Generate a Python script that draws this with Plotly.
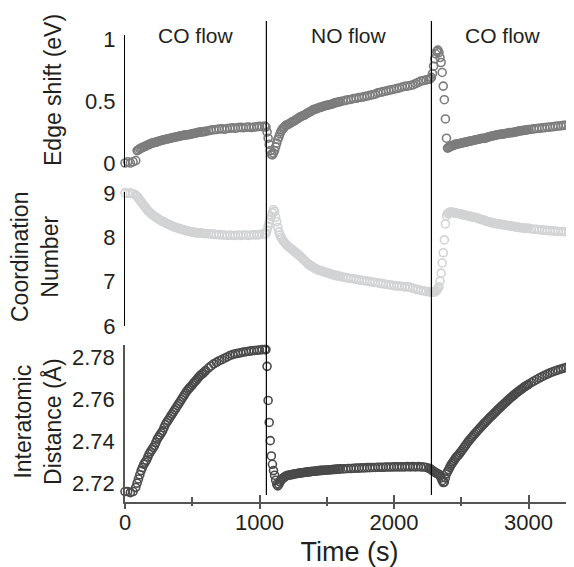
import plotly.graph_objects as go

# sampling times (s): coarser where the signals are flat, finer where they move fast
seg_starts = [0, 90, 620, 1048, 1210, 1620, 2270, 2470, 3020]
seg_steps = [20, 10, 20, 8, 10, 20, 8, 10, 20]
seg_counts = [5, 52, 22, 20, 40, 33, 25, 54, 17]
time = []
for s0, st, n in zip(seg_starts, seg_steps, seg_counts):
    time += [s0 + st * k for k in range(n)]

switch_times = [1051, 2278]
phase_labels = ["CO flow", "NO flow", "CO flow"]
phase_centers = [525, 1665, 2808]

edge_shift = [
    0.00, 0.01, 0.00, 0.01, 0.02,
    0.10, 0.105, 0.115, 0.12, 0.125, 0.13, 0.135, 0.14, 0.145, 0.15,
    0.155, 0.16, 0.162, 0.165, 0.168, 0.17, 0.175, 0.18, 0.182, 0.185,
    0.188, 0.19, 0.193, 0.195, 0.198, 0.20, 0.203, 0.205, 0.208, 0.21,
    0.212, 0.215, 0.218, 0.22, 0.222, 0.225, 0.226, 0.226, 0.228, 0.23,
    0.233, 0.235, 0.238, 0.24, 0.242, 0.245, 0.248, 0.25, 0.25, 0.252,
    0.254, 0.255,
    0.26, 0.265, 0.268, 0.27, 0.274, 0.276, 0.272, 0.278, 0.28, 0.283,
    0.28, 0.285, 0.287, 0.284, 0.288, 0.29, 0.286, 0.29, 0.292, 0.295,
    0.293, 0.298,
    # switch to NO
    0.29, 0.25, 0.20, 0.15, 0.10, 0.07, 0.065, 0.08, 0.10, 0.13,
    0.16, 0.19, 0.21, 0.235, 0.255, 0.27, 0.28, 0.29, 0.30, 0.306,
    # NO flow
    0.31, 0.315, 0.322, 0.33, 0.335, 0.34, 0.348, 0.355, 0.362, 0.37,
    0.375, 0.38, 0.385, 0.39, 0.398, 0.405, 0.41, 0.415, 0.422, 0.43,
    0.432, 0.435, 0.44, 0.445, 0.448, 0.45, 0.455, 0.46, 0.462, 0.465,
    0.468, 0.47, 0.472, 0.475, 0.48, 0.485, 0.487, 0.49, 0.492, 0.495,
    0.50, 0.505, 0.51, 0.512, 0.52, 0.522, 0.528, 0.53, 0.535, 0.54,
    0.545, 0.55, 0.555, 0.565, 0.57, 0.575, 0.58, 0.585, 0.59, 0.595,
    0.60, 0.605, 0.612, 0.618, 0.62, 0.625, 0.63, 0.64, 0.65, 0.66,
    0.665, 0.67, 0.675,
    # switch to CO
    0.68, 0.69, 0.72, 0.78, 0.84, 0.88, 0.90, 0.91, 0.89, 0.85,
    0.81, 0.73, 0.62, 0.51, 0.355, 0.20, 0.12, 0.125, 0.13, 0.135,
    0.14, 0.14, 0.145, 0.15, 0.15,
    # CO flow
    0.152, 0.155, 0.157, 0.16, 0.162, 0.165, 0.168, 0.17, 0.172, 0.175,
    0.178, 0.18, 0.182, 0.185, 0.188, 0.19, 0.192, 0.195, 0.197, 0.20,
    0.198, 0.20, 0.205, 0.21, 0.212, 0.215, 0.218, 0.22, 0.222, 0.225,
    0.228, 0.23, 0.231, 0.232, 0.234, 0.235, 0.238, 0.24, 0.242, 0.245,
    0.244, 0.245, 0.248, 0.25, 0.252, 0.255, 0.258, 0.26, 0.261, 0.262,
    0.264, 0.265, 0.268, 0.27,
    0.272, 0.275, 0.278, 0.28, 0.283, 0.285, 0.288, 0.29, 0.292, 0.295,
    0.298, 0.30, 0.303, 0.305, 0.31, 0.312, 0.315,
]

coordination = [
    9.00, 8.99, 9.00, 8.98, 8.95,
    8.92, 8.88, 8.84, 8.80, 8.76, 8.72, 8.68, 8.64, 8.60, 8.57,
    8.54, 8.52, 8.49, 8.47, 8.45, 8.43, 8.41, 8.39, 8.37, 8.36,
    8.34, 8.33, 8.31, 8.30, 8.28, 8.27, 8.25, 8.24, 8.23, 8.22,
    8.21, 8.20, 8.19, 8.18, 8.17, 8.16, 8.15, 8.14, 8.14, 8.13,
    8.12, 8.12, 8.11, 8.11, 8.10, 8.10, 8.10, 8.10, 8.09, 8.09,
    8.08, 8.08,
    8.08, 8.07, 8.07, 8.06, 8.06, 8.05, 8.05, 8.04, 8.05, 8.04,
    8.04, 8.05, 8.04, 8.05, 8.05, 8.04, 8.05, 8.06, 8.05, 8.06,
    8.07, 8.08,
    8.08, 8.15, 8.25, 8.33, 8.40, 8.47, 8.55, 8.62, 8.58, 8.45,
    8.35, 8.22, 8.12, 8.05, 8.00, 7.96, 7.92, 7.89, 7.86, 7.83,
    7.80, 7.78, 7.75, 7.73, 7.70, 7.68, 7.65, 7.63, 7.60, 7.58,
    7.55, 7.52, 7.49, 7.46, 7.43, 7.40, 7.38, 7.36, 7.34, 7.32,
    7.30, 7.29, 7.27, 7.26, 7.25, 7.24, 7.23, 7.22, 7.21, 7.20,
    7.19, 7.18, 7.17, 7.16, 7.15, 7.14, 7.14, 7.13, 7.12, 7.12,
    7.10, 7.09, 7.08, 7.07, 7.06, 7.05, 7.04, 7.03, 7.02, 7.01,
    7.00, 6.99, 6.98, 6.97, 6.96, 6.95, 6.94, 6.93, 6.92, 6.91,
    6.90, 6.90, 6.89, 6.88, 6.88, 6.87, 6.85, 6.83, 6.82, 6.80,
    6.79, 6.78, 6.77,
    6.77, 6.76, 6.77, 6.76, 6.77, 6.78, 6.80, 6.84, 6.88, 7.01,
    7.19, 7.42, 7.65, 7.94, 8.30, 8.48, 8.53, 8.55, 8.56, 8.57,
    8.56, 8.56, 8.55, 8.55, 8.54,
    8.54, 8.53, 8.53, 8.52, 8.51, 8.50, 8.50, 8.49, 8.48, 8.47,
    8.47, 8.46, 8.45, 8.45, 8.44, 8.43, 8.42, 8.41, 8.40, 8.39,
    8.38, 8.37, 8.36, 8.35, 8.34, 8.33, 8.33, 8.32, 8.31, 8.31,
    8.30, 8.30, 8.29, 8.29, 8.28, 8.28, 8.27, 8.27, 8.26, 8.26,
    8.25, 8.25, 8.24, 8.24, 8.23, 8.23, 8.22, 8.22, 8.21, 8.21,
    8.21, 8.20, 8.20, 8.20,
    8.19, 8.18, 8.18, 8.17, 8.16, 8.16, 8.15, 8.15, 8.14, 8.14,
    8.13, 8.13, 8.13, 8.12, 8.12, 8.12, 8.11,
]

distance = [
    2.716, 2.716, 2.7155, 2.716, 2.718,
    2.720, 2.722, 2.724, 2.726, 2.7275, 2.729, 2.730, 2.731, 2.7325, 2.734,
    2.735, 2.736, 2.737, 2.738, 2.7395, 2.741, 2.742, 2.743, 2.744, 2.745,
    2.7465, 2.748, 2.749, 2.750, 2.751, 2.752, 2.753, 2.754, 2.755, 2.756,
    2.757, 2.758, 2.759, 2.760, 2.761, 2.762, 2.763, 2.764, 2.7648, 2.7655,
    2.7662, 2.767, 2.7678, 2.7685, 2.7692, 2.770, 2.7708, 2.7715, 2.772, 2.7725,
    2.7732, 2.7738,
    2.775, 2.776, 2.777, 2.7777, 2.7785, 2.779, 2.7797, 2.7803, 2.781, 2.7814,
    2.7818, 2.782, 2.7823, 2.7826, 2.7828, 2.783, 2.7832, 2.7834, 2.7835, 2.7836,
    2.7838, 2.7838,
    2.7838, 2.7758, 2.7595, 2.749, 2.7403, 2.733, 2.729, 2.726, 2.7238, 2.7214,
    2.7195, 2.7187, 2.7195, 2.7205, 2.7213, 2.722, 2.7225, 2.7228, 2.7232, 2.7235,
    2.7237, 2.7238, 2.724, 2.7241, 2.7242, 2.7244, 2.7245, 2.7246, 2.7247, 2.7248,
    2.7249, 2.725, 2.7251, 2.7252, 2.7253, 2.7254, 2.7254, 2.7255, 2.7256, 2.7257,
    2.7257, 2.7258, 2.7259, 2.726, 2.726, 2.7261, 2.7261, 2.7262, 2.7262, 2.7263,
    2.7263, 2.7264, 2.7264, 2.7265, 2.7265, 2.7266, 2.7266, 2.7267, 2.7267, 2.7268,
    2.7268, 2.7269, 2.727, 2.727, 2.7271, 2.7272, 2.7272, 2.7273, 2.7273, 2.7274,
    2.7274, 2.7275, 2.7275, 2.7276, 2.7276, 2.7276, 2.7277, 2.7277, 2.7277, 2.7278,
    2.7278, 2.7278, 2.7278, 2.7278, 2.7279, 2.7278, 2.7279, 2.7278, 2.7279, 2.7278,
    2.7277, 2.7275, 2.7271,
    2.7268, 2.7264, 2.726, 2.7257, 2.7253, 2.725, 2.7247, 2.7244, 2.7242, 2.7236,
    2.7225, 2.7212, 2.7203, 2.7205, 2.7225, 2.7245, 2.7255, 2.7265, 2.7275, 2.7285,
    2.7293, 2.7301, 2.7308, 2.7316, 2.7323,
    2.7329, 2.7335, 2.7344, 2.7352, 2.7361, 2.737, 2.7379, 2.7388, 2.7397, 2.7405,
    2.7413, 2.742, 2.7428, 2.7435, 2.7443, 2.745, 2.7457, 2.7464, 2.7471, 2.7478,
    2.7485, 2.7492, 2.7498, 2.7505, 2.7512, 2.7518, 2.7524, 2.753, 2.7537, 2.7543,
    2.755, 2.7556, 2.7562, 2.7568, 2.7574, 2.758, 2.7586, 2.7592, 2.7598, 2.7604,
    2.761, 2.7615, 2.762, 2.7626, 2.7631, 2.7636, 2.7641, 2.7646, 2.765, 2.7655,
    2.766, 2.7664, 2.7668, 2.7672,
    2.768, 2.7688, 2.7695, 2.7702, 2.7709, 2.7715, 2.7721, 2.7727, 2.7732, 2.7737,
    2.7741, 2.7745, 2.7749, 2.7753, 2.7757, 2.7761, 2.7764,
]

assert len(edge_shift) == len(coordination) == len(distance) == len(time)

font = "Liberation Sans, Arial, sans-serif"
ink = "#231f20"

fig = go.Figure()


def add_series(y, color, yax):
    fig.add_trace(go.Scatter(
        x=time, y=y, mode="markers", yaxis=yax, cliponaxis=False, showlegend=False,
        marker=dict(symbol="circle-open", size=8, color=color, line=dict(width=1.6)),
    ))


add_series(edge_shift, "#7c7c7c", "y")
add_series(coordination, "#d2d3d4", "y2")
add_series(distance, "#4a4a4a", "y3")
# dummy trace so the overlay axis carrying the outward tick marks is drawn
fig.add_trace(go.Scatter(x=[None], y=[None], xaxis="x2", yaxis="y3", showlegend=False))

# gas switch lines
for t in switch_times:
    fig.add_shape(type="line", xref="x", yref="paper", x0=t, x1=t, y0=0.0146, y1=1.0,
                  line=dict(color="black", width=1.2))

for lbl, xc in zip(phase_labels, phase_centers):
    fig.add_annotation(x=xc, y=0.969, xref="x", yref="paper", text=lbl, showarrow=False,
                       font=dict(size=21, color=ink), xanchor="center", yanchor="middle")

ytitles = [
    ("Edge shift (eV)", -0.1604, 0.8565),
    ("Coordination<br>Number", -0.2004, 0.5094),
    ("Interatomic<br>Distance (Å)", -0.1938, 0.1684),
]
for txt, xp, yp in ytitles:
    fig.add_annotation(x=xp, y=yp, xref="paper", yref="paper", text=txt, showarrow=False,
                       textangle=-90, font=dict(size=23, color=ink),
                       xanchor="center", yanchor="middle")

yaxis_common = dict(showline=True, linecolor="black", linewidth=1, ticks="", showgrid=False,
                    zeroline=False, tickfont=dict(size=22, color=ink), anchor="x",
                    ticklabelstandoff=4)

# the page body adds an 8 px margin, so the figure is 8 px smaller than the window
fig.update_layout(
    width=566, height=559,
    margin=dict(l=117, r=0, t=13, b=65),
    paper_bgcolor="white", plot_bgcolor="white",
    font=dict(family=font, color=ink),
    xaxis=dict(range=[0, 3338], anchor="y3", showline=True, linecolor="#555", linewidth=2,
               showgrid=False, zeroline=False, tick0=0, dtick=1000, ticks="inside",
               ticklen=7, tickwidth=1.5, tickcolor="#555", tickfont=dict(size=22, color=ink),
               minor=dict(tick0=0, dtick=500, ticks="inside", ticklen=5, tickwidth=1.5,
                          tickcolor="#555"),
               title=dict(text="Time (s)", font=dict(size=27, color=ink), standoff=8)),
    xaxis2=dict(range=[0, 3338], matches="x", overlaying="x", anchor="y3", showline=False,
                showgrid=False, zeroline=False, showticklabels=False, tick0=0, dtick=1000,
                ticks="outside", ticklen=6, tickwidth=1.5, tickcolor="#555",
                minor=dict(tick0=0, dtick=500, ticks="outside", ticklen=3, tickwidth=1.5,
                           tickcolor="#555")),
    yaxis=dict(domain=[0.6965, 0.971], range=[-0.032, 1.032], tickvals=[0, 0.5, 1],
               ticktext=["0", "0.5", "1"], **yaxis_common),
    yaxis2=dict(domain=[0.366, 0.6445], range=[6, 9.02], tickvals=[6, 7, 8, 9],
                **yaxis_common),
    yaxis3=dict(domain=[0, 0.3264], range=[2.711, 2.786],
                tickvals=[2.72, 2.74, 2.76, 2.78], **yaxis_common),
)
fig.update_layout(yaxis3_linecolor="#555", yaxis3_linewidth=1.5)

fig.write_html("out.html")
